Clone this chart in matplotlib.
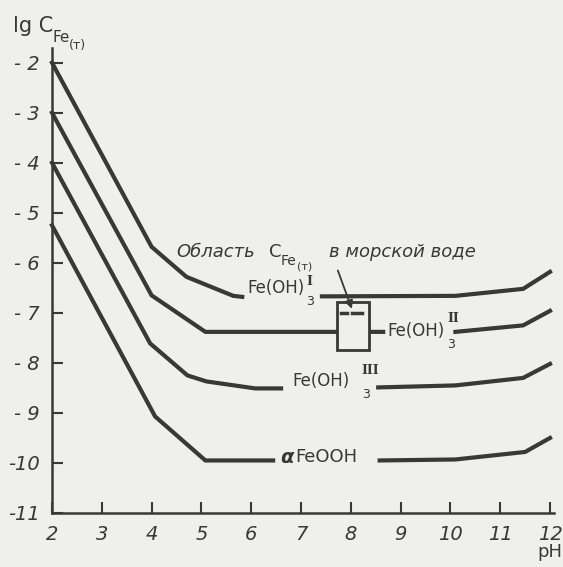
import numpy as np
import matplotlib
matplotlib.use("Agg")
from matplotlib import pyplot as plt
from matplotlib.patches import Rectangle

nan = np.nan

# pH values / lg C for the four curves (nan = gap for the label)
ph_1 = [2, 4.0, 4.7, 5.64, 5.82, nan, 7.42, 10.1, 11.46, 12.0]
lg_1 = [-2, -5.68, -6.28, -6.66, -6.68, nan, -6.67, -6.66, -6.52, -6.18]

ph_2 = [2, 4.0, 5.08, 7.72, nan, 8.37, 8.65, nan, 10.1, 11.46, 12.0]
lg_2 = [-3, -6.65, -7.38, -7.38, nan, -7.38, -7.38, nan, -7.38, -7.25, -6.96]

ph_3 = [2, 3.97, 4.72, 5.1, 6.08, 6.6, nan, 8.55, 10.1, 11.46, 12.0]
lg_3 = [-4, -7.61, -8.25, -8.37, -8.51, -8.51, nan, -8.49, -8.45, -8.3, -8.02]

ph_4 = [2, 4.07, 5.08, 6.44, nan, 8.58, 10.1, 11.5, 12.0]
lg_4 = [-5.25, -9.07, -9.95, -9.95, nan, -9.95, -9.93, -9.78, -9.5]

# sea water region (box)
sea_ph = [7.72, 8.37]
sea_lg = [-7.75, -6.79]

x_ticks = list(range(2, 13))
y_ticks = list(range(-11, -1))
y_labels = ['-11', '-10', '- 9', '- 8', '- 7', '- 6', '- 5', '- 4', '- 3', '- 2']

bg = '#efefed'
ink = '#383838'

fig = plt.figure(figsize=(5.63, 5.67), dpi=100, facecolor=bg)
ax = fig.add_axes([52/563, 54/567, 502/563, 465.3/567])
ax.set_facecolor(bg)
ax.set_xlim(2, 12.08)
ax.set_ylim(-11, -1.7)

for s in ['top', 'right']:
    ax.spines[s].set_visible(False)
for s in ['left', 'bottom']:
    ax.spines[s].set_linewidth(1.8)
    ax.spines[s].set_color(ink)

ax.set_xticks(x_ticks)
ax.set_xticklabels([str(v) for v in x_ticks], fontsize=14, style='italic', color=ink)
ax.set_yticks(y_ticks)
ax.set_yticklabels(y_labels, fontsize=14, style='italic', color=ink)
ax.tick_params(direction='in', length=8, width=1.5, color=ink)
ax.tick_params(axis='y', pad=9)
ax.tick_params(axis='x', pad=9)

for px, py in [(ph_1, lg_1), (ph_2, lg_2), (ph_3, lg_3), (ph_4, lg_4)]:
    ax.plot(px, py, color=ink, lw=3.0, solid_joinstyle='miter', clip_on=False)

# box for sea water
ax.add_patch(Rectangle((sea_ph[0], sea_lg[0]), sea_ph[1] - sea_ph[0], sea_lg[1] - sea_lg[0],
                       facecolor=bg, edgecolor=ink, lw=2.0, zorder=3))
ax.plot([7.8, 7.92], [-7.0, -7.0], color=ink, lw=2.5, zorder=4)
ax.plot([8.02, 8.22], [-7.0, -7.0], color=ink, lw=2.5, zorder=4)
ax.annotate('', xy=(8.04, -6.97), xytext=(7.72, -6.1),
            arrowprops=dict(arrowstyle='-|>', lw=1.3, color=ink, mutation_scale=12), zorder=5)

# curve labels
def fe_label(x, y, num, dx_sub, y_sub, y_sup):
    ax.text(x, y, 'Fe(OH)', fontsize=12, color=ink, va='center', ha='left')
    ax.text(x + dx_sub, y_sub, '3', fontsize=9, color=ink, va='center', ha='left')
    ax.text(x + dx_sub, y_sup, num, fontsize=9, color=ink, va='center', ha='left',
            family='DejaVu Serif', fontweight='bold')

fe_label(5.92, -6.5, 'I', 1.18, -6.78, -6.37)
fe_label(8.73, -7.37, 'II', 1.2, -7.64, -7.12)
fe_label(6.82, -8.37, 'III', 1.4, -8.64, -8.15)

ax.text(6.58, -9.9, 'α', fontsize=14, color=ink, va='center', ha='left',
        style='italic', fontweight='bold')
ax.text(6.88, -9.88, 'FeOOH', fontsize=13, color=ink, va='center', ha='left')

# annotation text
ax.text(4.5, -5.78, 'Область', fontsize=13, style='italic', color=ink, va='center', ha='left')
ax.text(6.35, -5.78, 'C', fontsize=13, color=ink, va='center', ha='left')
ax.text(6.6, -5.97, 'Fe', fontsize=10, color=ink, va='center', ha='left')
ax.text(6.92, -6.07, '(т)', fontsize=8, color=ink, va='center', ha='left')
ax.text(7.56, -5.78, 'в морской воде', fontsize=13, style='italic', color=ink, va='center', ha='left')

# axis labels
ax.text(1.22, -1.27, 'lg C', fontsize=15, color=ink, va='center', ha='left', clip_on=False)
ax.text(2.0, -1.5, 'Fe', fontsize=11, color=ink, va='center', ha='left', clip_on=False)
ax.text(2.34, -1.66, '(т)', fontsize=9, color=ink, va='center', ha='left', clip_on=False)
ax.text(11.75, -11.78, 'pH', fontsize=13, color=ink, va='center', ha='left', clip_on=False)

fig.savefig('out.png', dpi=100, facecolor=bg)
